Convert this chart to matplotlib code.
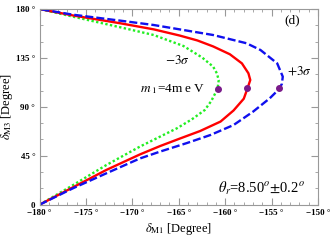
import matplotlib
matplotlib.use("Agg")
import matplotlib.pyplot as plt

plt.rcParams["font.family"] = ["Liberation Serif", "DejaVu Serif"]
plt.rcParams["mathtext.fontset"] = "stix"

# delta_M1, delta_M3 (bottom to top)
green_x = [-180, -176.4, -172.8, -169.2, -165.2, -163.6, -162.2, -161.5, -161.0, -160.8, -160.7, -160.9, -161.3, -162.5, -164.5, -167.7, -171.3, -176.4, -180]
green_y = [0, 18, 36.5, 53.4, 70.3, 78.5, 87.1, 95.4, 103.7, 108, 114.7, 120.9, 127, 135.5, 146, 156.1, 163.2, 173, 180]

red_x = [-180, -176.4, -172.8, -169.2, -167.0, -164.9, -162.7, -160.5, -159.1, -158.0, -157.6, -157.3, -157.5, -158.2, -159.5, -161.3, -163.0, -164.9, -167.7, -171.3, -176.4, -180]
red_y = [0, 16, 32, 46.2, 54.0, 60.8, 67.8, 76.5, 86.7, 97.5, 107, 114.7, 120.9, 130, 138.4, 145.6, 151.1, 155.6, 161.3, 166.9, 174.1, 180]

blue_x = [-180, -176.4, -172.8, -169.2, -167.0, -164.1, -161.6, -159.1, -157.0, -155.2, -154.3, -153.9, -153.8, -154.4, -156.2, -157.7, -161.3, -164.5, -167.7, -171.3, -176.4, -180]
blue_y = [0, 15.1, 28.9, 42.5, 48.9, 56.8, 64.1, 73.3, 85.6, 97.9, 105.5, 111, 117.8, 130, 142.3, 148.5, 156.1, 160.7, 165.3, 169.3, 174.8, 180]

dot_x = [-160.8, -157.6, -154.2]
dot_y = [106.4, 107.3, 107.8]

xticks = [-180, -175, -170, -165, -160, -155, -150]
yticks = [0, 45, 90, 135, 180]

fig = plt.figure(figsize=(3.32, 2.44), dpi=100)
ax = fig.add_axes([0.119, 0.161, 0.839, 0.802])

ax.plot(green_x, green_y, color="#22ee22", lw=1.7, ls=(0, (1, 1)))
ax.plot(red_x, red_y, color="red", lw=1.7)
ax.plot(blue_x, blue_y, color="#1010ee", lw=1.7, ls=(0, (3.4, 1.3)))
ax.plot(dot_x, dot_y, "o", color="#7a1a8a", ms=4, zorder=5)

ax.set_xlim(-180, -150)
ax.set_ylim(0, 180)
ax.set_xticks(xticks)
ax.set_xticklabels(["\u2212%d \u00b0" % -v for v in xticks], fontsize=6.5, fontweight="bold")
ax.set_yticks(yticks)
ax.set_yticklabels(["0"] + ["%d \u00b0" % v for v in yticks[1:]], fontsize=6.5, fontweight="bold")
ax.set_xticks(range(-180, -149), minor=True)
ax.set_yticks(range(0, 181, 15), minor=True)
ax.tick_params(which="both", direction="in", top=True, right=True, color="#999999")
ax.tick_params(which="major", length=5, width=0.8, pad=3)
ax.tick_params(which="minor", length=2.5, width=0.6)
for s in ax.spines.values():
    s.set_color("#999999")

ax.set_xlabel(r"$\delta_{\rm M1}$ [Degree]", fontsize=9, labelpad=3)
ax.set_ylabel(r"$\delta_{\rm M3}$ [Degree]", fontsize=9, labelpad=1)

ax.text(-152.8, 170, "(d)", fontsize=9.5, ha="center", va="center")
ax.text(-153.3, 123, r"$+3\sigma$", fontsize=9.5, ha="left", va="center")
ax.text(-166.5, 133, r"$-3\sigma$", fontsize=9.5, ha="left", va="center")
ax.text(-169.2, 106, r"$m_{\ 1}$=4m e V", fontsize=9.5, ha="left", va="center")
ax.text(-160.8, 15, r"$\theta_r$=8.50$^o$$\pm$0.2$^o$", fontsize=10.5, ha="left", va="center")

fig.savefig("out.png", dpi=100)
